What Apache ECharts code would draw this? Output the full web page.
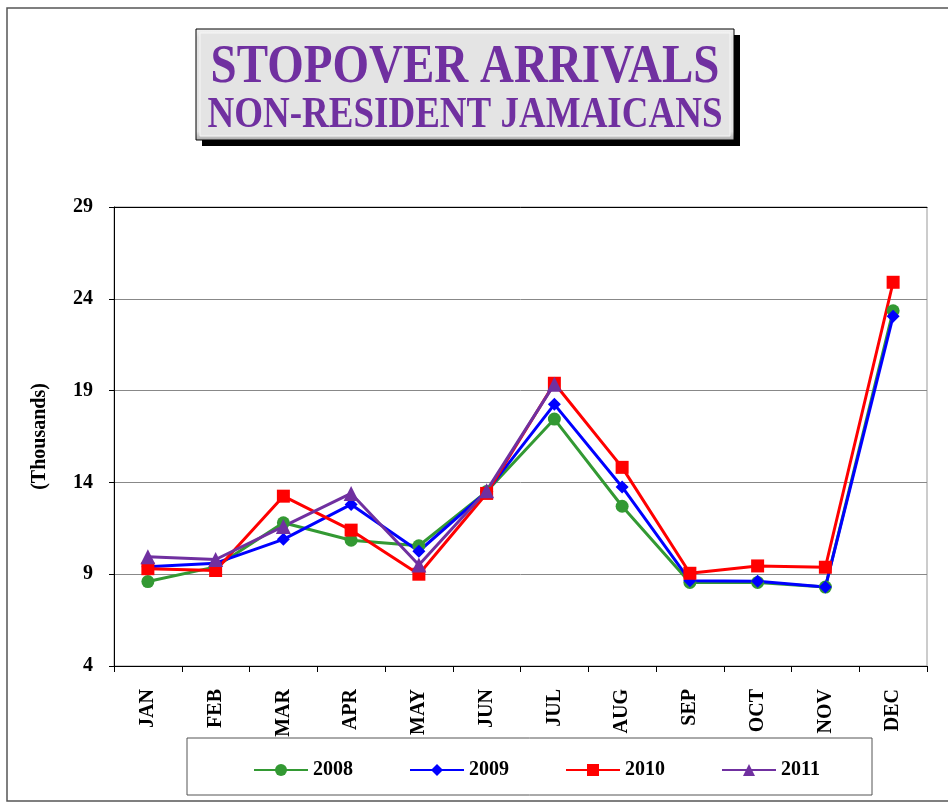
<!DOCTYPE html>
<html>
<head>
<meta charset="utf-8">
<script src="https://cdn.jsdelivr.net/npm/echarts@6/dist/echarts.min.js"></script>
<style>
html,body{margin:0;padding:0;background:#fff;}
#chart{width:948px;height:803px;}
</style>
</head>
<body>
<div id="chart"></div>
<script>
const months = ['JAN','FEB','MAR','APR','MAY','JUN','JUL','AUG','SEP','OCT','NOV','DEC'];
const s2008 = [8.6, 9.4, 11.8, 10.85, 10.55, 13.5, 17.45, 12.7, 8.55, 8.55, 8.3, 23.35];
const s2009 = [9.4, 9.6, 10.9, 12.8, 10.25, 13.5, 18.25, 13.75, 8.65, 8.62, 8.3, 23.05];
const s2010 = [9.3, 9.2, 13.25, 11.4, 9.0, 13.4, 19.4, 14.82, 9.05, 9.45, 9.38, 24.9];
const s2011 = [9.95, 9.8, 11.6, 13.4, 9.5, 13.55, 19.35, null, null, null, null, null];
const titleLine1 = 'STOPOVER ARRIVALS';
const titleLine2 = 'NON-RESIDENT JAMAICANS';
const yName = '(Thousands)';

const FONT = '"Liberation Serif", "Times New Roman", serif';
const chart = echarts.init(document.getElementById('chart'), null, {renderer: 'canvas'});

function mkSeries(name, data, color, symbol, size) {
  return {
    name: name, type: 'line', data: data,
    symbol: symbol, symbolSize: size,
    itemStyle: {color: color},
    lineStyle: {color: color, width: 3},
    connectNulls: false, animation: false
  };
}

const option = {
  animation: false,
  backgroundColor: '#fff',
  grid: {left: 114, right: 21, top: 207, bottom: 137, show: true, borderColor: '#999', borderWidth: 1},
  xAxis: [{
    type: 'category', data: months, boundaryGap: true,
    axisLine: {lineStyle: {color: '#000', width: 1}},
    axisTick: {show: true, length: 6, lineStyle: {color: '#000'}},
    axisLabel: {rotate: 90, margin: 23, color: '#000', fontFamily: FONT, fontWeight: 'bold', fontSize: 20, interval: 0}
  }, {
    type: 'category', data: months, position: 'top',
    axisLine: {show: true, lineStyle: {color: '#000', width: 1}},
    axisTick: {show: false}, axisLabel: {show: false}
  }],
  yAxis: {
    type: 'value', min: 4, max: 29, interval: 5,
    name: yName, nameLocation: 'middle', nameRotate: 90, nameGap: 64,
    nameTextStyle: {color: '#000', fontFamily: FONT, fontWeight: 'bold', fontSize: 20},
    axisLine: {show: true, lineStyle: {color: '#000', width: 1}},
    axisTick: {show: true, length: 5, lineStyle: {color: '#000'}},
    axisLabel: {margin: 21, color: '#000', fontFamily: FONT, fontWeight: 'bold', fontSize: 20},
    splitLine: {show: true, lineStyle: {color: '#888', width: 1}}
  },
  legend: {
    left: 248, top: 755, itemGap: 56, itemWidth: 54, itemHeight: 15,
    textStyle: {color: '#000', fontFamily: FONT, fontWeight: 'bold', fontSize: 20, padding: [0,0,0,0]},
    data: ['2008','2009','2010','2011']
  },
  series: [
    mkSeries('2008', s2008, '#339933', 'circle', 13),
    mkSeries('2009', s2009, '#0000FF', 'diamond', 13),
    mkSeries('2010', s2010, '#FF0000', 'rect', 13),
    mkSeries('2011', s2011, '#7030A0', 'triangle', 15)
  ],
  graphic: [
    {type: 'rect', shape: {x: 7, y: 8, width: 960, height: 793}, style: {fill: 'none', stroke: '#555', lineWidth: 1.5}, z: 0},
    {type: 'rect', shape: {x: 187, y: 738, width: 685, height: 57}, style: {fill: 'none', stroke: '#555', lineWidth: 1}, z: 0},
    {type: 'rect', shape: {x: 202, y: 35, width: 538, height: 111}, style: {fill: '#000'}, z: 10},
    {type: 'rect', shape: {x: 196, y: 29, width: 538, height: 111},
      style: {fill: new echarts.graphic.LinearGradient(0, 0, 0, 1, [
        {offset: 0, color: '#f4f4f4'}, {offset: 0.08, color: '#e3e3e3'},
        {offset: 0.92, color: '#e3e3e3'}, {offset: 1, color: '#a8a8a8'}]), stroke: '#000', lineWidth: 1}, z: 11},
    {type: 'rect', shape: {x: 200, y: 33, width: 530, height: 103},
      style: {fill: '#e4e4e4', stroke: '#f6f6f6', lineWidth: 1}, z: 12},
    {type: 'text', x: 465, y: 68, z: 13, scaleY: 1.18,
      style: {text: titleLine1, fill: '#7030A0', font: 'bold 47px ' + FONT, textAlign: 'center', textVerticalAlign: 'middle'}},
    {type: 'text', x: 465, y: 116, z: 13, scaleY: 1.18,
      style: {text: titleLine2, fill: '#7030A0', font: 'bold 37px ' + FONT, textAlign: 'center', textVerticalAlign: 'middle'}}
  ]
};
chart.setOption(option);
</script>
</body>
</html>
